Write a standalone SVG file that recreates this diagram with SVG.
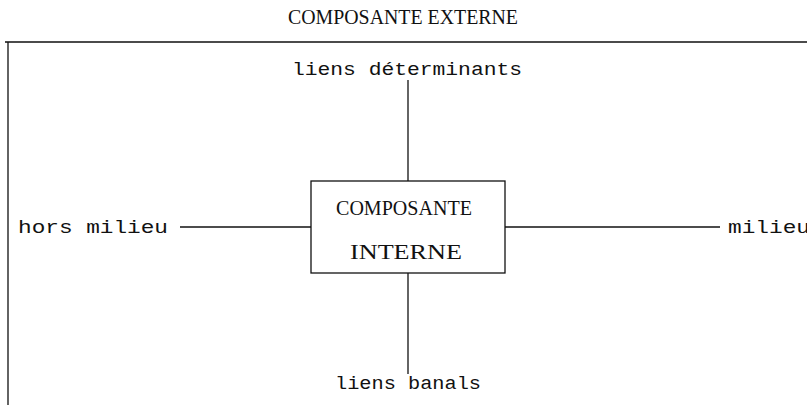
<svg xmlns="http://www.w3.org/2000/svg" width="807" height="405" viewBox="0 0 807 405">
<style>
.t{font-family:"Liberation Serif","DejaVu Serif",serif;font-size:20px;fill:#111}
.m{font-family:"Liberation Mono","DejaVu Sans Mono",monospace;font-size:19px;fill:#111}
.l{stroke:#111;stroke-width:1.3;fill:none}
</style>
<rect width="807" height="405" fill="#fff"/>
<g id="outer">
<text class="t" x="403" y="24" text-anchor="middle" textLength="230" lengthAdjust="spacingAndGlyphs">COMPOSANTE EXTERNE</text>
<path class="l" d="M5 42H807M8 42V405"/>
</g>
<g id="connectors">
<path class="l" d="M408 80V181"/>
<path class="l" d="M408 273V374"/>
<path class="l" d="M180 227H311"/>
<path class="l" d="M505 227H720"/>
</g>
<g id="internal">
<rect class="l" x="311" y="181" width="194" height="92"/>
<text class="t" x="404" y="215" text-anchor="middle" textLength="136" lengthAdjust="spacingAndGlyphs">COMPOSANTE</text>
<text class="t" x="406" y="259" text-anchor="middle" textLength="112" lengthAdjust="spacingAndGlyphs">INTERNE</text>
</g>
<g id="top">
<text class="m" x="407" y="75" text-anchor="middle" textLength="230" lengthAdjust="spacingAndGlyphs">liens déterminants</text>
</g>
<g id="left">
<text class="m" x="18" y="233" textLength="150" lengthAdjust="spacingAndGlyphs">hors milieu</text>
</g>
<g id="right">
<text class="m" x="728" y="233" textLength="82" lengthAdjust="spacingAndGlyphs">milieu</text>
</g>
<g id="bottom">
<text class="m" x="408" y="389" text-anchor="middle" textLength="146" lengthAdjust="spacingAndGlyphs">liens banals</text>
</g>
</svg>
